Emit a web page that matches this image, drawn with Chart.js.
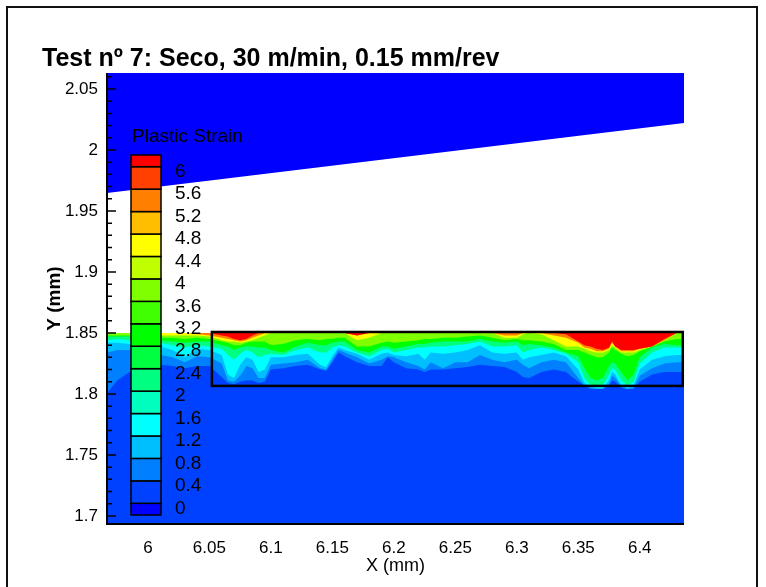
<!DOCTYPE html>
<html>
<head>
<meta charset="utf-8">
<script src="https://cdn.jsdelivr.net/npm/chart.js@4.4.1/dist/chart.umd.min.js"></script>
<style>
  html, body { margin: 0; padding: 0; background: #fff; }
  #wrap { position: relative; width: 766px; height: 587px; }
</style>
</head>
<body>
<div id="wrap"><canvas id="grafico" width="766" height="587"></canvas></div>
<script>
// LIMITES DE LOS EJES (mm)
const xMin = 5.9667, xMax = 6.436
const yMin = 1.6934, yMax = 2.0631
const superficie = 1.85

const xTicks = [6, 6.05, 6.1, 6.15, 6.2, 6.25, 6.3, 6.35, 6.4]
const xTickLabels = ['6', '6.05', '6.1', '6.15', '6.2', '6.25', '6.3', '6.35', '6.4']
const yTicks = [1.7, 1.75, 1.8, 1.85, 1.9, 1.95, 2, 2.05]
const yTickLabels = ['1.7', '1.75', '1.8', '1.85', '1.9', '1.95', '2', '2.05']

// ESCALA DE DEFORMACION PLASTICA
const niveles = [0, 0.4, 0.8, 1.2, 1.6, 2, 2.4, 2.8, 3.2, 3.6, 4, 4.4, 4.8, 5.2, 5.6, 6]
const colores = ['#0000ff', '#0040ff', '#0080ff', '#00bfff', '#00ffff', '#00ffbf', '#00ff80', '#00ff40',
                 '#00ff00', '#40ff00', '#80ff00', '#bfff00', '#ffff00', '#ffbf00', '#ff8000', '#ff4000', '#ff0000']

// herramienta (borde inferior)
const herrX = [xMin, xMax]
const herrY = [1.9648, 2.0221]

// zona marcada
const cajaX = [6.052, 6.435]
const cajaY = [1.8066, 1.8508]

// PERFILES: y (mm) donde la deformacion baja del nivel
const xs = [5.967, 5.975, 5.985, 6.0, 6.01, 6.02, 6.03, 6.04, 6.05, 6.06, 6.065, 6.07, 6.075, 6.08, 6.085, 6.09,
            6.095, 6.1, 6.11, 6.12, 6.13, 6.14, 6.145, 6.15, 6.155, 6.16, 6.17, 6.18, 6.19, 6.195, 6.2, 6.21,
            6.22, 6.225, 6.23, 6.24, 6.25, 6.26, 6.27, 6.28, 6.29, 6.3, 6.305, 6.31, 6.32, 6.33, 6.34, 6.35,
            6.355, 6.36, 6.365, 6.37, 6.375, 6.3775, 6.38, 6.385, 6.39, 6.395, 6.4, 6.41, 6.42, 6.43, 6.436]

const def04 = [1.801, 1.811, 1.818, 1.821, 1.824, 1.823, 1.821, 1.823, 1.823, 1.814, 1.809, 1.808, 1.810, 1.811, 1.811, 1.809,
               1.810, 1.820, 1.821, 1.823, 1.824, 1.820, 1.819, 1.826, 1.834, 1.831, 1.826, 1.823, 1.823, 1.830, 1.826, 1.821,
               1.820, 1.818, 1.820, 1.820, 1.821, 1.822, 1.824, 1.823, 1.822, 1.818, 1.814, 1.813, 1.818, 1.820, 1.818, 1.810,
               1.807, 1.804, 1.804, 1.804, 1.807, 1.811, 1.810, 1.805, 1.804, 1.804, 1.810, 1.816, 1.818, 1.818, 1.818]
const def08 = [1.834, 1.836, 1.836, 1.834, 1.832, 1.830, 1.826, 1.831, 1.830, 1.825, 1.811, 1.810, 1.815, 1.823, 1.821, 1.813,
               1.813, 1.824, 1.825, 1.826, 1.828, 1.821, 1.820, 1.828, 1.836, 1.834, 1.830, 1.825, 1.828, 1.831, 1.830, 1.826,
               1.823, 1.820, 1.826, 1.821, 1.826, 1.826, 1.832, 1.828, 1.826, 1.828, 1.824, 1.821, 1.826, 1.828, 1.826, 1.813,
               1.807, 1.805, 1.804, 1.804, 1.808, 1.815, 1.813, 1.806, 1.804, 1.805, 1.815, 1.821, 1.825, 1.826, 1.826]
const def12 = [1.842, 1.842, 1.841, 1.840, 1.839, 1.836, 1.830, 1.837, 1.836, 1.832, 1.816, 1.813, 1.824, 1.830, 1.828, 1.818,
               1.820, 1.830, 1.830, 1.832, 1.833, 1.824, 1.822, 1.831, 1.838, 1.836, 1.833, 1.828, 1.833, 1.834, 1.832, 1.831,
               1.833, 1.828, 1.834, 1.833, 1.834, 1.836, 1.840, 1.834, 1.833, 1.834, 1.828, 1.830, 1.832, 1.834, 1.831, 1.820,
               1.809, 1.806, 1.805, 1.805, 1.811, 1.818, 1.816, 1.807, 1.805, 1.807, 1.820, 1.828, 1.831, 1.832, 1.832]
const def20 = [1.844, 1.845, 1.844, 1.843, 1.842, 1.840, 1.838, 1.840, 1.839, 1.837, 1.832, 1.828, 1.833, 1.836, 1.834, 1.830,
               1.832, 1.833, 1.832, 1.836, 1.838, 1.834, 1.834, 1.838, 1.840, 1.839, 1.834, 1.831, 1.836, 1.837, 1.834, 1.836,
               1.838, 1.838, 1.839, 1.839, 1.840, 1.841, 1.843, 1.839, 1.839, 1.840, 1.834, 1.836, 1.838, 1.836, 1.833, 1.826,
               1.813, 1.807, 1.807, 1.807, 1.816, 1.821, 1.820, 1.811, 1.807, 1.810, 1.825, 1.834, 1.838, 1.838, 1.838]
const def28 = [1.847, 1.847, 1.847, 1.846, 1.844, 1.843, 1.842, 1.843, 1.843, 1.840, 1.839, 1.836, 1.838, 1.839, 1.839, 1.838,
               1.838, 1.836, 1.834, 1.839, 1.842, 1.840, 1.840, 1.842, 1.843, 1.843, 1.836, 1.834, 1.839, 1.839, 1.837, 1.839,
               1.841, 1.841, 1.842, 1.843, 1.843, 1.843, 1.845, 1.843, 1.842, 1.843, 1.840, 1.841, 1.840, 1.838, 1.834, 1.831,
               1.821, 1.813, 1.811, 1.813, 1.823, 1.826, 1.825, 1.818, 1.811, 1.816, 1.830, 1.838, 1.841, 1.840, 1.840]
const def36 = [1.848, 1.848, 1.848, 1.848, 1.846, 1.846, 1.845, 1.846, 1.845, 1.843, 1.842, 1.840, 1.840, 1.842, 1.843, 1.843,
               1.843, 1.840, 1.841, 1.844, 1.845, 1.844, 1.845, 1.845, 1.846, 1.846, 1.839, 1.839, 1.842, 1.843, 1.842, 1.843,
               1.844, 1.845, 1.845, 1.846, 1.846, 1.847, 1.848, 1.846, 1.844, 1.845, 1.844, 1.844, 1.843, 1.841, 1.836, 1.836,
               1.834, 1.832, 1.830, 1.830, 1.834, 1.838, 1.836, 1.833, 1.831, 1.832, 1.835, 1.839, 1.843, 1.845, 1.845]
const def44 = [1.850, 1.850, 1.850, 1.849, 1.848, 1.848, 1.848, 1.848, 1.847, 1.844, 1.843, 1.843, 1.842, 1.843, 1.844, 1.846,
               1.848, 1.850, 1.850, 1.850, 1.850, 1.850, 1.850, 1.850, 1.850, 1.850, 1.844, 1.846, 1.850, 1.850, 1.850, 1.850,
               1.850, 1.850, 1.850, 1.850, 1.850, 1.850, 1.850, 1.850, 1.846, 1.846, 1.849, 1.850, 1.849, 1.844, 1.839, 1.839,
               1.837, 1.835, 1.834, 1.834, 1.836, 1.840, 1.838, 1.834, 1.834, 1.834, 1.836, 1.839, 1.844, 1.850, 1.850]
const def52 = [1.850, 1.850, 1.850, 1.850, 1.850, 1.850, 1.850, 1.849, 1.848, 1.846, 1.845, 1.844, 1.843, 1.844, 1.846, 1.848,
               1.850, 1.850, 1.850, 1.850, 1.850, 1.850, 1.850, 1.850, 1.850, 1.850, 1.848, 1.850, 1.850, 1.850, 1.850, 1.850,
               1.850, 1.850, 1.850, 1.850, 1.850, 1.850, 1.850, 1.850, 1.848, 1.848, 1.850, 1.850, 1.850, 1.848, 1.846, 1.842,
               1.838, 1.837, 1.835, 1.835, 1.837, 1.842, 1.839, 1.835, 1.835, 1.835, 1.837, 1.839, 1.844, 1.850, 1.850]
const def60 = [1.850, 1.850, 1.850, 1.850, 1.850, 1.850, 1.850, 1.850, 1.850, 1.848, 1.847, 1.845, 1.844, 1.845, 1.848, 1.850,
               1.850, 1.850, 1.850, 1.850, 1.850, 1.850, 1.850, 1.850, 1.850, 1.850, 1.848, 1.850, 1.850, 1.850, 1.850, 1.850,
               1.850, 1.850, 1.850, 1.850, 1.850, 1.850, 1.850, 1.850, 1.850, 1.850, 1.850, 1.850, 1.850, 1.850, 1.849, 1.843,
               1.840, 1.839, 1.837, 1.836, 1.838, 1.843, 1.839, 1.836, 1.836, 1.836, 1.837, 1.839, 1.845, 1.850, 1.850]

// cada perfil con el indice de su color en la escala
const perfiles = [
  { y: def04, color: 2 }, { y: def08, color: 3 }, { y: def12, color: 4 },
  { y: def20, color: 6 }, { y: def28, color: 8 }, { y: def36, color: 10 },
  { y: def44, color: 12 }, { y: def52, color: 14 }, { y: def60, color: 16 }
]

const FUENTE = "'Liberation Sans', Arial, sans-serif"
Chart.defaults.font.family = FUENTE
Chart.defaults.color = '#000'

// tramos pegados a la superficie sin deformacion -> hueco (no se rellena nada)
function puntos(ys) {
  return xs.map((x, j) => {
    let plano = ys[j] >= superficie &&
      (j === 0 || ys[j - 1] >= superficie) &&
      (j === xs.length - 1 || ys[j + 1] >= superficie)
    return { x: x, y: plano ? null : ys[j] }
  })
}

//DATASETS (sin borde, solo relleno)
let datasets = []
datasets.push({
  label: 'pieza',
  data: [{ x: xMin, y: superficie }, { x: xMax, y: superficie }],
  fill: 'start', backgroundColor: colores[1], borderColor: 'rgba(0,0,0,0)',
  borderWidth: 0, pointRadius: 0, order: 100
})
perfiles.forEach((p, i) => {
  datasets.push({
    label: 'nivel ' + i,
    data: puntos(p.y),
    fill: { value: superficie }, backgroundColor: colores[p.color], borderColor: 'rgba(0,0,0,0)',
    borderWidth: 0, pointRadius: 0, tension: 0, spanGaps: false, order: 50 - i
  })
})
datasets.push({
  label: 'herramienta',
  data: herrX.map((x, i) => ({ x: x, y: herrY[i] })),
  fill: 'end', backgroundColor: colores[0], borderColor: 'rgba(0,0,0,0)',
  borderWidth: 0, pointRadius: 0, order: 0
})

// ejes, caja, escala de colores y titulo
const decorado = {
  id: 'decorado',
  beforeDraw(chart) {
    const c = chart.ctx
    c.save()
    c.fillStyle = '#fff'
    c.fillRect(0, 0, chart.width, chart.height)
    c.restore()
  },
  afterDatasetsDraw(chart) {
    const c = chart.ctx
    const sx = chart.scales.x, sy = chart.scales.y
    const a = chart.chartArea
    c.save()

    // caja de la zona
    c.strokeStyle = '#000'
    c.lineWidth = 2.5
    let x0 = sx.getPixelForValue(cajaX[0]), x1 = sx.getPixelForValue(cajaX[1])
    let y0 = sy.getPixelForValue(cajaY[1]), y1 = sy.getPixelForValue(cajaY[0])
    c.strokeRect(x0, y0, x1 - x0, y1 - y0)

    // lineas de ejes
    c.lineWidth = 2
    c.beginPath()
    c.moveTo(a.left, a.top)
    c.lineTo(a.left, a.bottom)
    c.lineTo(a.right, a.bottom)
    c.stroke()

    // marcas hacia dentro
    c.lineWidth = 1.5
    c.beginPath()
    for (let k = 197; k <= 243; k++) {
      let v = k / 100 + 5
      let px = sx.getPixelForValue(v)
      if (px <= a.left || px > a.right) continue
      let mayor = xTicks.some(t => Math.abs(t - v) < 1e-6)
      c.moveTo(px, a.bottom)
      c.lineTo(px, a.bottom - (mayor ? 9 : 5))
    }
    for (let k = 170; k <= 206; k++) {
      let v = k / 100
      let py = sy.getPixelForValue(v)
      if (py < a.top || py >= a.bottom) continue
      let mayor = yTicks.some(t => Math.abs(t - v) < 1e-6)
      c.moveTo(a.left, py)
      c.lineTo(a.left + (mayor ? 9 : 5), py)
    }
    c.stroke()

    // ESCALA
    const ex = 131, ey = 155, ew = 30, paso = 22.44, medio = 11.7
    c.lineWidth = 1.5
    for (let k = 0; k < colores.length; k++) {
      let top, h
      if (k === colores.length - 1) { top = ey; h = medio }
      else if (k === 0) { top = ey + medio + 15 * paso; h = medio }
      else { top = ey + medio + (15 - k) * paso; h = paso }
      c.fillStyle = colores[k]
      c.fillRect(ex, top, ew, h)
      c.strokeStyle = '#000'
      c.strokeRect(ex, top, ew, h)
    }
    c.fillStyle = '#000'
    c.font = '19px ' + FUENTE
    c.textBaseline = 'middle'
    c.textAlign = 'left'
    niveles.forEach((n, j) => {
      let yb = ey + medio + (15 - j) * paso
      c.fillText(String(n), 175, yb + 5)
    })
    c.fillText('Plastic Strain', 132, 137)
    c.restore()
  },
  afterDraw(chart) {
    const c = chart.ctx
    c.save()
    c.fillStyle = '#000'
    c.font = 'bold 25px ' + FUENTE
    c.textBaseline = 'alphabetic'
    c.textAlign = 'left'
    c.fillText('Test nº 7: Seco, 30 m/min, 0.15 mm/rev', 42, 66)
    c.strokeStyle = '#111'
    c.lineWidth = 2
    c.strokeRect(7, 7, 750, 620)
    c.restore()
  }
}

const ctx = document.getElementById('grafico').getContext('2d')
const chart = new Chart(ctx, {
  type: 'line',
  data: { datasets: datasets },
  plugins: [decorado],
  options: {
    responsive: false,
    animation: false,
    devicePixelRatio: 1,
    layout: { padding: { top: 73, right: 82, left: 0, bottom: 0 } },
    plugins: { legend: { display: false }, tooltip: { enabled: false }, title: { display: false } },
    scales: {
      x: {
        type: 'linear', min: xMin, max: xMax,
        grid: { display: false, drawTicks: false }, border: { display: false },
        afterBuildTicks: s => { s.ticks = xTicks.map(v => ({ value: v })) },
        ticks: { callback: (v, i) => xTickLabels[i], font: { size: 17 }, padding: 14, maxRotation: 0, autoSkip: false },
        title: { display: true, text: 'X (mm)', font: { size: 18 }, padding: { top: 0, bottom: 10 } },
        afterFit: s => { s.height = 63 }
      },
      y: {
        type: 'linear', min: yMin, max: yMax,
        grid: { display: false, drawTicks: false }, border: { display: false },
        afterBuildTicks: s => { s.ticks = yTicks.map(v => ({ value: v })) },
        ticks: { callback: (v, i) => yTickLabels[i], font: { size: 17 }, padding: 9, autoSkip: false },
        title: { display: true, text: 'Y (mm)', font: { size: 19, weight: 'bold' }, padding: { top: 43, bottom: 0 } },
        afterFit: s => { s.width = 107 }
      }
    }
  }
})
</script>
</body>
</html>
